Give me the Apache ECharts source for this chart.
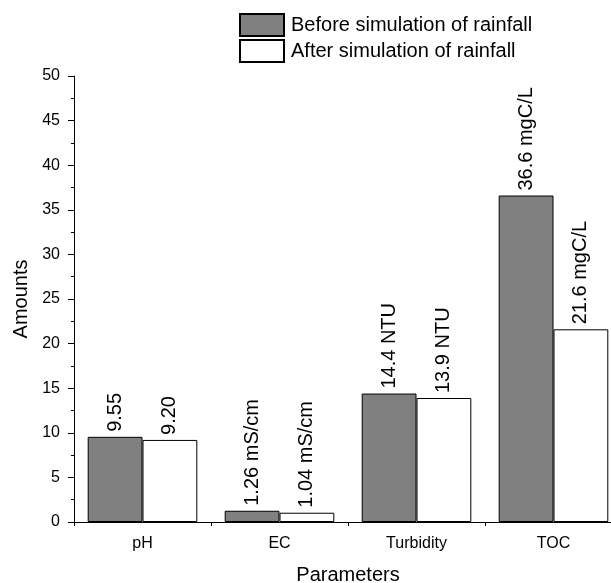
<!DOCTYPE html>
<html>
<head>
<meta charset="utf-8">
<script src="https://cdn.jsdelivr.net/npm/echarts@6/dist/echarts.min.js"></script>
<style>html,body{margin:0;padding:0;background:#fff;overflow:hidden}#c{width:611px;height:583px}</style>
</head>
<body>
<div id="c"></div>
<script>
var categories = ['pH', 'EC', 'Turbidity', 'TOC'];
var seriesNames = ['Before simulation of rainfall', 'After simulation of rainfall'];
var beforeValues = [9.55, 1.26, 14.4, 36.6];
var afterValues = [9.20, 1.04, 13.9, 21.6];
var beforeLabels = ['9.55', '1.26 mS/cm', '14.4 NTU', '36.6 mgC/L'];
var afterLabels = ['9.20', '1.04 mS/cm', '13.9 NTU', '21.6 mgC/L'];
var yTicks = [0, 5, 10, 15, 20, 25, 30, 35, 40, 45, 50];

var FONT = 'Liberation Sans, Arial, sans-serif';
var chart = echarts.init(document.getElementById('c'), null, {renderer: 'canvas'});

function labelCfg(arr) {
  return {
    show: true, position: 'top', rotate: 90, align: 'left', verticalAlign: 'middle',
    distance: 5, color: '#000', fontFamily: FONT, fontSize: 20,
    formatter: function (p) { return arr[p.dataIndex]; }
  };
}

chart.setOption({
  animation: false,
  backgroundColor: '#fff',
  legend: {
    orient: 'vertical', left: 239, top: 13, padding: 0,
    itemWidth: 44, itemHeight: 22, itemGap: 2,
    textStyle: {fontFamily: FONT, fontSize: 20, color: '#000', padding: [0, 0, 0, 2]},
    data: seriesNames.map(function (n) { return {name: n, icon: 'rect'}; })
  },
  grid: {left: 74, right: -11, top: 76, bottom: 61, containLabel: false, outerBoundsMode: 'none'},
  xAxis: [{
    type: 'category', data: categories,
    axisLine: {lineStyle: {color: '#000', width: 1}},
    axisTick: {alignWithLabel: true, length: 6, lineStyle: {color: '#000'}},
    axisLabel: {color: '#000', fontFamily: FONT, fontSize: 16, margin: 14},
    name: 'Parameters', nameLocation: 'middle', nameGap: 43,
    nameTextStyle: {color: '#000', fontFamily: FONT, fontSize: 20}
  }, {
    type: 'category', data: categories, position: 'bottom',
    axisLine: {show: false},
    axisTick: {show: true, length: 4, lineStyle: {color: '#000'}},
    axisLabel: {show: false}
  }],
  yAxis: {
    type: 'value', min: 0, max: 50, interval: 5,
    axisLine: {show: true, lineStyle: {color: '#000'}},
    axisTick: {show: true, length: 6, lineStyle: {color: '#000'}},
    minorTick: {show: true, splitNumber: 2, length: 3, lineStyle: {color: '#000'}},
    splitLine: {show: false},
    axisLabel: {color: '#000', fontFamily: FONT, fontSize: 16, margin: 14,
      formatter: function (v) { return yTicks.indexOf(v) >= 0 ? String(v) : ''; }},
    name: 'Amounts', nameLocation: 'middle', nameGap: 42, nameRotate: 90,
    nameTextStyle: {color: '#000', fontFamily: FONT, fontSize: 20}
  },
  series: [{
    name: seriesNames[0], type: 'bar', xAxisIndex: 0, data: beforeValues,
    barGap: '0%', barCategoryGap: '20%',
    itemStyle: {color: '#808080', borderColor: '#000', borderWidth: 1},
    label: labelCfg(beforeLabels)
  }, {
    name: seriesNames[1], type: 'bar', xAxisIndex: 0, data: afterValues,
    barGap: '0%', barCategoryGap: '20%',
    itemStyle: {color: '#ffffff', borderColor: '#000', borderWidth: 1},
    label: labelCfg(afterLabels)
  }]
});
</script>
</body>
</html>
